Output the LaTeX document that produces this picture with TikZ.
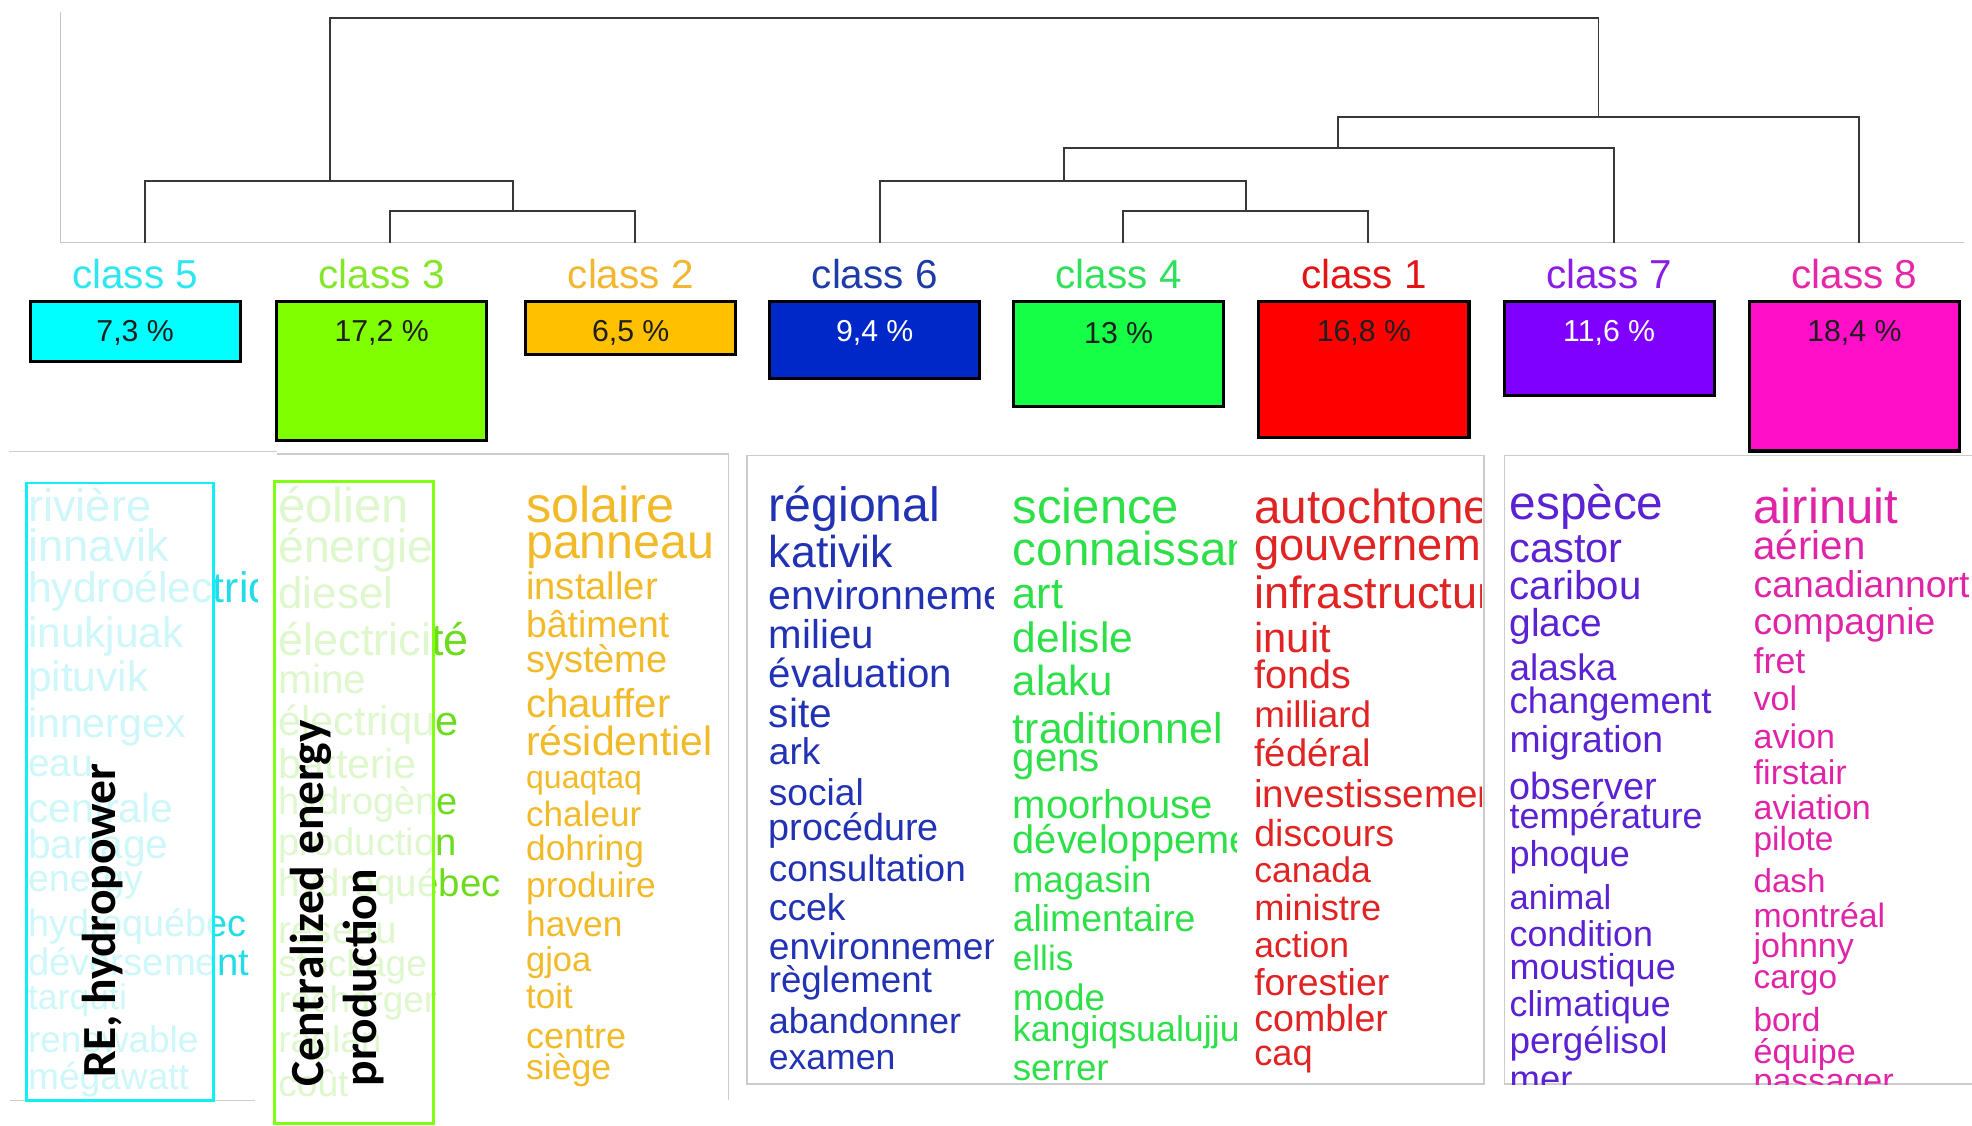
\documentclass[tikz,border=0pt]{standalone}
\usepackage{fontspec}
\setmainfont{Liberation Sans}
\newfontfamily\labelfont{Carlito}
\usetikzlibrary{positioning}

% class colours: lab = class name, box = bar fill, wrd = word cloud
\definecolor{lab5}{HTML}{2EE6F0}\definecolor{box5}{HTML}{00FFFF}\definecolor{wrd5}{HTML}{22DCE8}
\definecolor{lab3}{HTML}{84E62A}\definecolor{box3}{HTML}{80FF00}\definecolor{wrd3}{HTML}{6EDC1E}
\definecolor{lab2}{HTML}{F2B630}\definecolor{box2}{HTML}{FFC000}\definecolor{wrd2}{HTML}{F2BA28}
\definecolor{lab6}{HTML}{1E3CA8}\definecolor{box6}{HTML}{0028C8}\definecolor{wrd6}{HTML}{2232B4}
\definecolor{lab4}{HTML}{2EE05A}\definecolor{box4}{HTML}{14FF46}\definecolor{wrd4}{HTML}{2EE048}
\definecolor{lab1}{HTML}{E41414}\definecolor{box1}{HTML}{FF0000}\definecolor{wrd1}{HTML}{E02424}
\definecolor{lab7}{HTML}{8A1EE6}\definecolor{box7}{HTML}{8000FF}\definecolor{wrd7}{HTML}{5A22D2}
\definecolor{lab8}{HTML}{E628A8}\definecolor{box8}{HTML}{FF10C8}\definecolor{wrd8}{HTML}{E024A8}
\definecolor{pctdark}{HTML}{1E1E1E}
\definecolor{treegray}{HTML}{383838}
\definecolor{edge5}{HTML}{10EEF6}
\definecolor{edge3}{HTML}{80FF10}

\tikzset{
    tree/.style={draw=treegray, line width=0.9pt}, % dendrogram branches
    axisline/.style={draw=gray!45, line width=0.6pt},
    frame/.style={draw=gray!40, line width=0.6pt}, % word cloud panels
    pbox/.style={draw=black, line width=1.4pt},
    pct/.style={font=\fontsize{13.7}{14}\selectfont, inner sep=0pt},
    clabel/.style={font=\fontsize{18.3}{19}\selectfont, inner sep=0pt},
    word/.style={anchor=base west, inner sep=0pt},
    wsize/.style={font=\fontsize{#1}{#1}\selectfont},
    veil/.style={fill=white, fill opacity=0.78, line width=1.3pt}, % highlight frame
    rotlab/.style={font=\labelfont\bfseries\fontsize{21.5}{24}\selectfont,
        rotate=90, inner sep=0pt, anchor=base west, align=left}}

\begin{document}
\begin{tikzpicture}[x=0.02cm, y=-0.02cm]
    \useasboundingbox (0,0) rectangle (1568,895);

    % Dendrogram
    \draw[axisline] (48,9.5) -- (48,193) -- (1562,193);
    \foreach \n/\x in {5/115, 3/310, 2/505, 6/700, 4/893, 1/1088, 7/1283, 8/1478}
        \coordinate (l\n) at (\x,193);
    \coordinate (m32) at (408,168);
    \coordinate (m532) at (262,144);
    \coordinate (m41) at (991,168);
    \coordinate (m641) at (846,144);
    \coordinate (m7) at (1064,118);
    \coordinate (m8) at (1271,93);
    \coordinate (mtop) at (766,14);
    \draw[tree] (l3) |- (m32) -| (l2);
    \draw[tree] (l5) |- (m532) -| (m32);
    \draw[tree] (l4) |- (m41) -| (l1);
    \draw[tree] (l6) |- (m641) -| (m41);
    \draw[tree] (m641) |- (m7) -| (l7);
    \draw[tree] (m7) |- (m8) -| (l8);
    \draw[tree] (m532) |- (mtop) -| (m8);

    % Class names and size bars
    \foreach \cl/\x/\h/\p/\tc in {5/24/47.6/{7,3}/pctdark, 3/220/110.6/{17,2}/pctdark,
            2/418/41.7/{6,5}/pctdark, 6/612/60.8/{9,4}/white, 4/806/83.3/13/pctdark,
            1/1001/107.7/{16,8}/pctdark, 7/1196/74.3/{11,6}/white, 8/1391/118.6/{18,4}/pctdark} {
        \node[clabel, text=lab\cl] (c\cl) at (\x+83.5,218) {class \cl};
        \draw[pbox, fill=box\cl] (\x,240) rectangle ++(167,\h);
        \node[pct, text=\tc] (p\cl) at (\x+83.5,264.5) {\p~\%};
    }

    % Panels
    \draw[frame] (7,359) -- (220,359);
    \draw[frame] (8,875) -- (203,875);
    \draw[frame] (220,361) -- (579,361) -- (579,875);
    \draw[frame] (594,362) rectangle (1180,862);
    \draw[frame] (1568,362) -- (1196,362) -- (1196,862) -- (1568,862);

    % Word clouds
    \begin{scope}
        \clip (0,360) rectangle (205,876);
        \foreach \w/\y/\s [count=\i] in {rivière/405.5/20.5, innavik/437/20.5,
                hydroélectrique/470.4/19.3, inukjuak/506/19.2, pituvik/540.7/19.2,
                innergex/577.8/18.6, eau/609.6/17.6, centrale/645.4/18.5, barrage/674.4/18.4,
                energy/701/17, hydroquébec/736.8/17.1, déversement/767.3/17.3,
                tarquti/795/16.1, renewable/829.5/16.7, mégawatt/858.7/16.8}
            \node[word, wsize=\s, text=wrd5] (w5-\i) at (22,{\y+0.46*\s}) {\w};
    \end{scope}
    \begin{scope}
        \clip (212,362) rectangle (415,895);
        \foreach \w/\y/\s [count=\i] in {éolien/405.5/22.2, énergie/437.3/21,
                diesel/474.4/19.9, électricité/511.5/20.4, mine/543/18.4,
                électrique/576.5/18.8, batterie/610.7/18.8, hydrogène/640/17.2,
                production/672/17.3, hydroquébec/705/17.4, réseau/742/17.5,
                stockage/768.6/16.8, recharger/797.6/16.7, raglan/829.5/16.8, coût/864/16.8}
            \node[word, wsize=\s, text=wrd3] (w3-\i) at (221,{\y+0.46*\s}) {\w};
    \end{scope}
    \begin{scope}
        \clip (415,362) rectangle (579,875);
        \foreach \w/\y/\s [count=\i] in {solaire/405/22.8, panneau/434/21.9,
                installer/469/17.3, bâtiment/499/16.9, système/527/17.2, chauffer/562/18.2,
                résidentiel/592/18.5, quaqtaq/620/14.5, chaleur/650/15.9, dohring/677/16,
                produire/706/16, haven/737/16, gjoa/765/15.6, toit/795/15.8,
                centre/826/16.3, siège/851/16.1}
            \node[word, wsize=\s, text=wrd2] (w2-\i) at (418,{\y+0.46*\s}) {\w};
    \end{scope}
    \begin{scope}
        \clip (594,362) rectangle (790,862);
        \foreach \w/\y/\s [count=\i] in {régional/405/21.8, kativik/441.8/20.2,
                environnement/476/18.6, milieu/506.9/18.2, évaluation/538.5/18.2,
                site/570.3/18.4, ark/600/16.8, social/632.7/16.8, procédure/660.1/17.1,
                consultation/693.6/16.7, ccek/724.5/16.9, environnement/755.3/16.8,
                règlement/781.8/16.6, abandonner/814.3/16.3, examen/842.7/16.1}
            \node[word, wsize=\s, text=wrd6] (w6-\i) at (611,{\y+0.46*\s}) {\w};
    \end{scope}
    \begin{scope}
        \clip (790,362) rectangle (983,862);
        \foreach \w/\y/\s [count=\i] in {science/406/22.2, connaissance/440/21.5,
                art/475/19.6, delisle/510.3/19.2, alaku/544.6/19, traditionnel/582.3/19.4,
                gens/605.2/18.2, moorhouse/642.3/18.1, développement/670.4/18,
                magasin/702.2/16.6, alimentaire/733.1/16.9, ellis/764.6/15.9,
                mode/795.4/16.7, kangiqsualujjuaq/820.5/16.2, serrer/851.3/16.6}
            \node[word, wsize=\s, text=wrd4] (w4-\i) at (805,{\y+0.46*\s}) {\w};
    \end{scope}
    \begin{scope}
        \clip (983,362) rectangle (1178,862);
        \foreach \w/\y/\s [count=\i] in {autochtone/406.5/21.6, gouvernement/436.6/20.5,
                infrastructure/474.3/20.4, inuit/510.3/18.9, fonds/539.4/17.9,
                milliard/571/16.7, fédéral/601.8/17.3, investissement/634.4/17.5,
                discours/665.2/17, canada/694.4/16.1, ministre/724.5/16.4,
                action/754.3/16.1, forestier/783.4/16.9, combler/812.6/17, caq/839.3/16.4}
            \node[word, wsize=\s, text=wrd1] (w1-\i) at (997,{\y+0.46*\s}) {\w};
    \end{scope}
    \begin{scope}
        \clip (1196,362) rectangle (1390,862);
        \foreach \w/\y/\s [count=\i] in {espèce/403/21.6, castor/438.3/18.8,
                caribou/468.2/18.2, glace/498.3/17.6, alaska/533.3/16.7,
                changement/560/16.6, migration/590.8/16.9, observer/627.5/17.1,
                température/651.5/16.2, phoque/681.6/16.3, animal/716/15.6,
                condition/745/16.2, moustique/771.5/16.3, climatique/800.6/16.2,
                pergélisol/829.7/16.7, mer/860/16.5}
            \node[word, wsize=\s, text=wrd7] (w7-\i) at (1200,{\y+0.46*\s}) {\w};
    \end{scope}
    \begin{scope}
        \clip (1390,362) rectangle (1568,862);
        \foreach \w/\y/\s [count=\i] in {airinuit/405.8/22.2, aérien/436.6/18.2,
                canadiannorth/467.5/16.9, compagnie/496.7/16.8, fret/528/16.2,
                vol/558.2/15.4, avion/588/15.4, firstair/616.5/15.5, aviation/644.6/15.4,
                pilote/669.6/15.1, dash/702.9/15, montréal/730.3/15.3, johnny/754.3/15.4,
                cargo/779.4/15.1, bord/813.6/15.1, équipe/838.3/15.4, passager/861.6/15.4}
            \node[word, wsize=\s, text=wrd8] (w8-\i) at (1394,{\y+0.46*\s}) {\w};
    \end{scope}

    % Highlighted groups
    \draw[veil, draw=edge5] (21,384) rectangle (170,875);
    \draw[veil, draw=edge3] (218,383) rectangle (345,893);
    \node[rotlab] (re) at (91.5,857) {RE, hydropower};
    \node[rotlab] (cep) at (299.5,864) {Centralized energy\\production};
\end{tikzpicture}
\end{document}
